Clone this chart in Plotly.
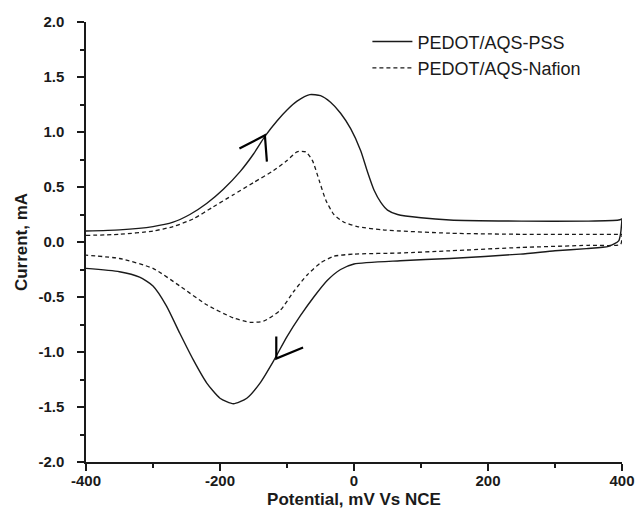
import plotly.graph_objects as go

# PEDOT/AQS-PSS (solid): anodic sweep then cathodic sweep
pss_fwd_x = [-400, -350, -300, -270, -245, -220, -195, -170, -150, -133, -115, -100, -85, -66, -50, -35, -20, -5, 10, 20, 30, 40, 50, 65, 100, 143, 250, 350, 395, 400]
pss_fwd_y = [0.10, 0.11, 0.14, 0.18, 0.25, 0.35, 0.48, 0.64, 0.80, 0.96, 1.10, 1.20, 1.28, 1.34, 1.33, 1.27, 1.17, 1.03, 0.83, 0.64, 0.47, 0.36, 0.29, 0.25, 0.22, 0.20, 0.19, 0.19, 0.20, 0.21]
pss_rev_x = [400, 398, 395, 380, 347, 300, 248, 143, 69, 0, -20, -40, -60, -80, -100, -120, -140, -160, -180, -200, -220, -240, -260, -280, -300, -320, -350, -400]
pss_rev_y = [0.21, 0.08, 0.01, -0.04, -0.06, -0.08, -0.11, -0.15, -0.17, -0.20, -0.25, -0.35, -0.50, -0.67, -0.86, -1.08, -1.28, -1.42, -1.47, -1.42, -1.28, -1.07, -0.83, -0.58, -0.40, -0.32, -0.27, -0.24]

# PEDOT/AQS-Nafion (dashed)
naf_fwd_x = [-400, -350, -300, -270, -240, -210, -180, -150, -120, -100, -85, -72, -62, -52, -42, -30, -15, 5, 43, 143, 250, 350, 400]
naf_fwd_y = [0.06, 0.07, 0.10, 0.14, 0.21, 0.32, 0.43, 0.54, 0.65, 0.74, 0.82, 0.82, 0.74, 0.56, 0.38, 0.25, 0.18, 0.14, 0.11, 0.08, 0.07, 0.07, 0.07]
naf_rev_x = [400, 398, 350, 248, 143, 69, 0, -30, -50, -70, -90, -110, -135, -155, -180, -220, -260, -300, -350, -400]
naf_rev_y = [0.07, -0.02, -0.03, -0.05, -0.08, -0.10, -0.11, -0.13, -0.19, -0.30, -0.45, -0.62, -0.72, -0.73, -0.69, -0.57, -0.40, -0.24, -0.15, -0.12]

# Sweep-direction arrows (chevrons)
arrow_up_x = [-171, -133, -130]
arrow_up_y = [0.85, 0.97, 0.73]
arrow_dn_x = [-76, -116, -116]
arrow_dn_y = [-0.96, -1.06, -0.86]

x_ticks = [-400, -200, 0, 200, 400]
y_ticks = [-2.0, -1.5, -1.0, -0.5, 0.0, 0.5, 1.0, 1.5, 2.0]
y_tick_text = ["-2.0", "-1.5", "-1.0", "-0.5", "0.0", "0.5", "1.0", "1.5", "2.0"]

font_family = "Liberation Sans, Arial, sans-serif"
ink = "#1a1a1a"

fig = go.Figure()
fig.add_trace(go.Scatter(x=pss_fwd_x + pss_rev_x, y=pss_fwd_y + pss_rev_y, mode="lines",
                         name="PEDOT/AQS-PSS", line=dict(color=ink, width=1.4, shape="spline", smoothing=0.6)))
fig.add_trace(go.Scatter(x=naf_fwd_x + naf_rev_x, y=naf_fwd_y + naf_rev_y, mode="lines",
                         name="PEDOT/AQS-Nafion", line=dict(color=ink, width=1.3, dash="4px,3px", shape="spline", smoothing=0.6)))
fig.add_trace(go.Scatter(x=arrow_up_x, y=arrow_up_y, mode="lines", showlegend=False,
                         line=dict(color="black", width=2.2), hoverinfo="skip"))
fig.add_trace(go.Scatter(x=arrow_dn_x, y=arrow_dn_y, mode="lines", showlegend=False,
                         line=dict(color="black", width=2.2), hoverinfo="skip"))

fig.update_layout(
    width=639, height=514,
    margin=dict(l=86, r=17, t=22, b=52, autoexpand=False),
    paper_bgcolor="white", plot_bgcolor="white",
    font=dict(family=font_family, color=ink),
    showlegend=True,
    legend=dict(x=0.525, y=0.997, xanchor="left", yanchor="top", bgcolor="rgba(0,0,0,0)",
                font=dict(size=18, family=font_family, color=ink), tracegroupgap=0, itemwidth=40),
    xaxis=dict(range=[-400, 400], tickvals=x_ticks, ticktext=[str(v) for v in x_ticks],
               automargin=False, ticklabeloverflow="allow", ticklabelstandoff=-3,
               ticks="outside", ticklen=7, tickwidth=1.5, tickcolor=ink,
               showline=True, linecolor=ink, linewidth=1.5, mirror=False, showgrid=False, zeroline=False,
               minor=dict(dtick=100, tick0=-400, ticks="outside", ticklen=4, tickwidth=1.5, tickcolor=ink, showgrid=False),
               tickfont=dict(size=15, family=font_family, weight="bold", color=ink),
               title=dict(text="<b>Potential, mV Vs NCE</b>", font=dict(size=17, family=font_family, color=ink), standoff=5)),
    yaxis=dict(range=[-2.0, 2.0], tickvals=y_ticks, ticktext=y_tick_text,
               automargin=False, ticklabeloverflow="allow",
               ticks="outside", ticklen=7, tickwidth=1.5, tickcolor=ink, ticklabelstandoff=10,
               showline=True, linecolor=ink, linewidth=1.5, mirror=False, showgrid=False, zeroline=False,
               minor=dict(dtick=0.25, tick0=-2.0, ticks="outside", ticklen=4, tickwidth=1.5, tickcolor=ink, showgrid=False),
               tickfont=dict(size=15, family=font_family, weight="bold", color=ink),
               title=dict(text="<b>Current, mA</b>", font=dict(size=17, family=font_family, color=ink), standoff=6)),
    yaxis2=dict(range=[-2.0, 2.0], overlaying="y", side="right", tickvals=y_ticks, automargin=False,
                ticks="inside", ticklen=6, tickwidth=1.5, tickcolor=ink, showticklabels=False,
                showline=True, linecolor=ink, linewidth=1.5, showgrid=False, zeroline=False),
)

fig.write_html("out.html")
